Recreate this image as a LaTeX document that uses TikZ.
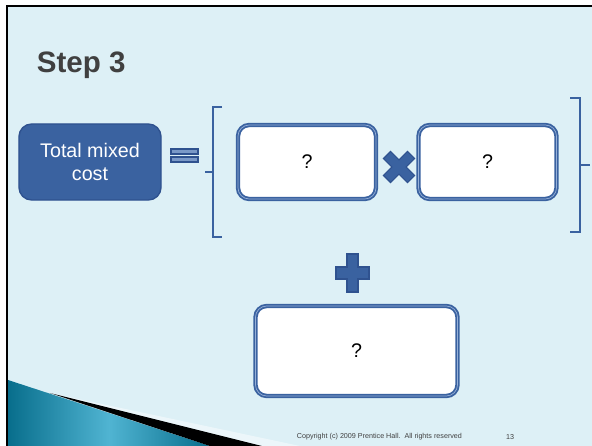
\documentclass[tikz,border=0pt]{standalone}
\usepackage{fontspec}
\setmainfont{Liberation Sans}
\usepackage{tikz}
\usetikzlibrary{shapes.geometric, positioning}
\definecolor{slidebg}{RGB}{221,240,246}
\definecolor{boxblue}{RGB}{58,98,160}
\definecolor{edgeblue}{RGB}{47,82,143}
\definecolor{softblue}{RGB}{150,176,216}
\definecolor{tealdark}{RGB}{8,110,140}
\definecolor{teallight}{RGB}{80,180,210}
\definecolor{titlegray}{RGB}{64,64,64}
\tikzset{
    term box/.style = {draw = boxblue, line width = 1.3pt, double = softblue, double distance = 0.5pt,
        fill = white, rounded corners = 8pt, align = center, font = \fontsize{14}{16}\selectfont},
    total box/.style = {draw = edgeblue, line width = 1pt, fill = boxblue, text = white,
        rounded corners = 9pt, align = center, font = \fontsize{14}{16}\selectfont},
    brace line/.style = {draw = boxblue, line width = 1.8pt},
    sign/.style = {draw = edgeblue, line width = 0.8pt, fill = boxblue},
}
\begin{document}
\begin{tikzpicture}[x = 0.025cm, y = -0.025cm]
            \useasboundingbox (0, 0) rectangle (592, 446);
            \fill[white] (0, 0) rectangle (592, 446);
            \fill[slidebg] (7, 6) rectangle (592, 446);

            % swoosh in the corner
            \shade[left color = tealdark, right color = tealdark, middle color = teallight]
                (8, 380) -- (210, 446) -- (8, 446) -- cycle;
            \fill[white, opacity = 0.45] (50, 393) -- (300, 446) -- (262, 446) -- cycle;
            \fill[black] (50, 393) -- (262, 446) -- (210, 446) -- cycle;
            \draw[black, line width = 1.5pt] (7, 446) -- (7, 6) -- (592, 6);

            \node[anchor = west, text = titlegray, font = \bfseries\fontsize{21}{24}\selectfont]
                (title) at (32, 65) {Step 3};

            \node[total box, minimum width = 3.55cm, minimum height = 1.9cm] (total) at (90, 162) {Total mixed\\cost};
            \node[term box, minimum width = 3.45cm, minimum height = 1.85cm] (a) at (307, 162) {?};
            \node[term box, minimum width = 3.45cm, minimum height = 1.85cm] (b) at (487.5, 162) {?};
            \node[term box, minimum width = 5.05cm, minimum height = 2.25cm] (c) at (356.5, 351) {?};

            % equals sign
            \draw[sign, fill = softblue!70!boxblue] (171, 149) rectangle (198, 154);
            \draw[sign, fill = softblue!70!boxblue] (171, 157) rectangle (198, 162);

            % brackets
            \draw[brace line] (222, 107) -- (213, 107) -- (213, 237) -- (222, 237);
            \draw[brace line] (213, 172) -- (205, 172);
            \draw[brace line] (570, 98) -- (580, 98) -- (580, 232) -- (570, 232);
            \draw[brace line] (580, 165) -- (590, 165);

            % times sign
            \draw[sign, rotate around = {45:(399, 167)}]
                (394, 150) -- (404, 150) -- (404, 162) -- (416, 162) -- (416, 172) -- (404, 172)
                -- (404, 184) -- (394, 184) -- (394, 172) -- (382, 172) -- (382, 162) -- (394, 162) -- cycle;

            % plus sign
            \draw[sign] (347, 254) -- (358, 254) -- (358, 267) -- (369, 267) -- (369, 279) -- (358, 279)
                -- (358, 292) -- (347, 292) -- (347, 279) -- (336, 279) -- (336, 267) -- (347, 267) -- cycle;

            \node[anchor = west, text = titlegray, font = \fontsize{5.1}{6}\selectfont]
                (copy) at (292, 437) {Copyright (c) 2009 Prentice Hall.\ \ All rights reserved};
            \node[text = titlegray, font = \fontsize{5.1}{6}\selectfont] (page) at (510, 437) {13};
        \end{tikzpicture}
\end{document}
